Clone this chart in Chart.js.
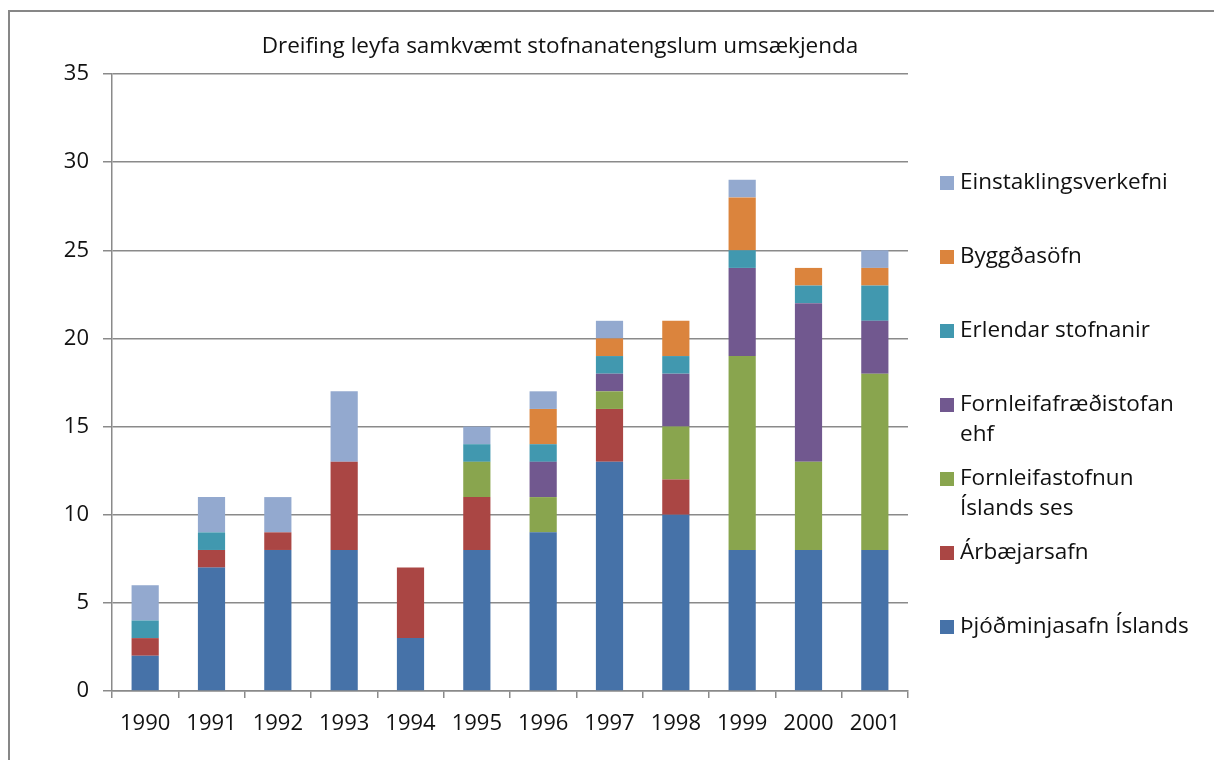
<!DOCTYPE html>
<html>
<head>
<meta charset="utf-8">
<script src="https://cdn.jsdelivr.net/npm/chart.js@4/dist/chart.umd.min.js"></script>
<style>
  body { margin: 0; background: #fff; }
  #wrap { width: 1214px; height: 760px; position: relative; }
</style>
</head>
<body>
<div id="wrap"><canvas id="chart" width="1214" height="760"></canvas></div>
<script>
var years = ['1990','1991','1992','1993','1994','1995','1996','1997','1998','1999','2000','2001'];

// stacked bottom -> top
var thjodminjasafn   = [2, 7, 8, 8, 3, 8, 9, 13, 10, 8, 8, 8];
var arbaejarsafn     = [1, 1, 1, 5, 4, 3, 0, 3, 2, 0, 0, 0];
var fornleifastofnun = [0, 0, 0, 0, 0, 2, 2, 1, 3, 11, 5, 10];
var fornleifafraedi  = [0, 0, 0, 0, 0, 0, 2, 1, 3, 5, 9, 3];
var erlendar         = [1, 1, 0, 0, 0, 1, 1, 1, 1, 1, 1, 2];
var byggdasofn       = [0, 0, 0, 0, 0, 0, 2, 1, 2, 3, 1, 1];
var einstaklings     = [2, 2, 2, 4, 0, 1, 1, 1, 0, 1, 0, 1];

var seriesNames = ['Þjóðminjasafn Íslands', 'Árbæjarsafn', 'Fornleifastofnun\nÍslands ses',
    'Fornleifafræðistofan\nehf', 'Erlendar stofnanir', 'Byggðasöfn', 'Einstaklingsverkefni'];
var seriesData = [thjodminjasafn, arbaejarsafn, fornleifastofnun, fornleifafraedi, erlendar, byggdasofn, einstaklings];
var seriesColors = ['#4672A8', '#AA4644', '#89A54E', '#71588F', '#4198AF', '#DB843D', '#93A9CF'];

var yTicks = [0, 5, 10, 15, 20, 25, 30, 35];
var titleText = 'Dreifing leyfa samkvæmt stofnanatengslum umsækjenda';

var FONT = "'Open Sans', sans-serif";
var GRID = '#8a8a8a';
var INK = '#111';

// title, frame and a legend that can wrap lines like the excel one
var excelBits = {
    id: 'excelBits',
    afterDraw: function(chart) {
        var ctx = chart.ctx;
        ctx.save();
        ctx.strokeStyle = '#878787';
        ctx.lineWidth = 2;
        ctx.strokeRect(9, 11, 1300, 900);

        ctx.fillStyle = INK;
        ctx.font = '22.5px ' + FONT;
        ctx.textAlign = 'center';
        ctx.textBaseline = 'middle';
        ctx.fillText(titleText, 560, 47);

        ctx.font = '22.5px ' + FONT;
        ctx.textAlign = 'left';
        var items = chart.data.datasets.slice().reverse();
        items.forEach(function(ds, i) {
            var y = 183 + i * 74;
            ctx.fillStyle = ds.backgroundColor;
            ctx.fillRect(940, y - 7, 14, 14);
            ctx.fillStyle = INK;
            ds.label.split('\n').forEach(function(line, j) {
                ctx.fillText(line, 960, y + j * 30);
            });
        });
        ctx.restore();
    }
};

var ctx = document.getElementById('chart').getContext('2d');
var chart = new Chart(ctx, {
    type: 'bar',
    data: {
        labels: years,
        datasets: seriesNames.map(function(name, i) {
            return {
                label: name,
                data: seriesData[i],
                backgroundColor: seriesColors[i],
                borderWidth: 0,
                barPercentage: 0.41,
                categoryPercentage: 1.0
            };
        })
    },
    options: {
        responsive: false,
        animation: false,
        layout: { padding: { top: 74, right: 306, bottom: 0, left: 0 } },
        plugins: {
            legend: { display: false },
            title: { display: false },
            tooltip: { enabled: false }
        },
        scales: {
            x: {
                stacked: true,
                grid: { display: true, offset: true, drawOnChartArea: false, color: GRID, tickLength: 7, lineWidth: 1.5 },
                border: { display: true, color: GRID, width: 1.5 },
                ticks: { color: INK, font: { family: FONT, size: 22 }, padding: 13, maxRotation: 0 },
                afterFit: function(scale) { scale.height = 69; }
            },
            y: {
                stacked: true,
                min: 0,
                max: 35,
                afterBuildTicks: function(scale) {
                    scale.ticks = yTicks.map(function(v) { return { value: v }; });
                },
                grid: { color: GRID, tickLength: 9, lineWidth: 1.5 },
                border: { display: true, color: GRID, width: 1.5 },
                ticks: { color: INK, font: { family: FONT, size: 22 }, padding: 14 },
                afterFit: function(scale) { scale.width = 112; }
            }
        }
    },
    plugins: [excelBits]
});
</script>
</body>
</html>
